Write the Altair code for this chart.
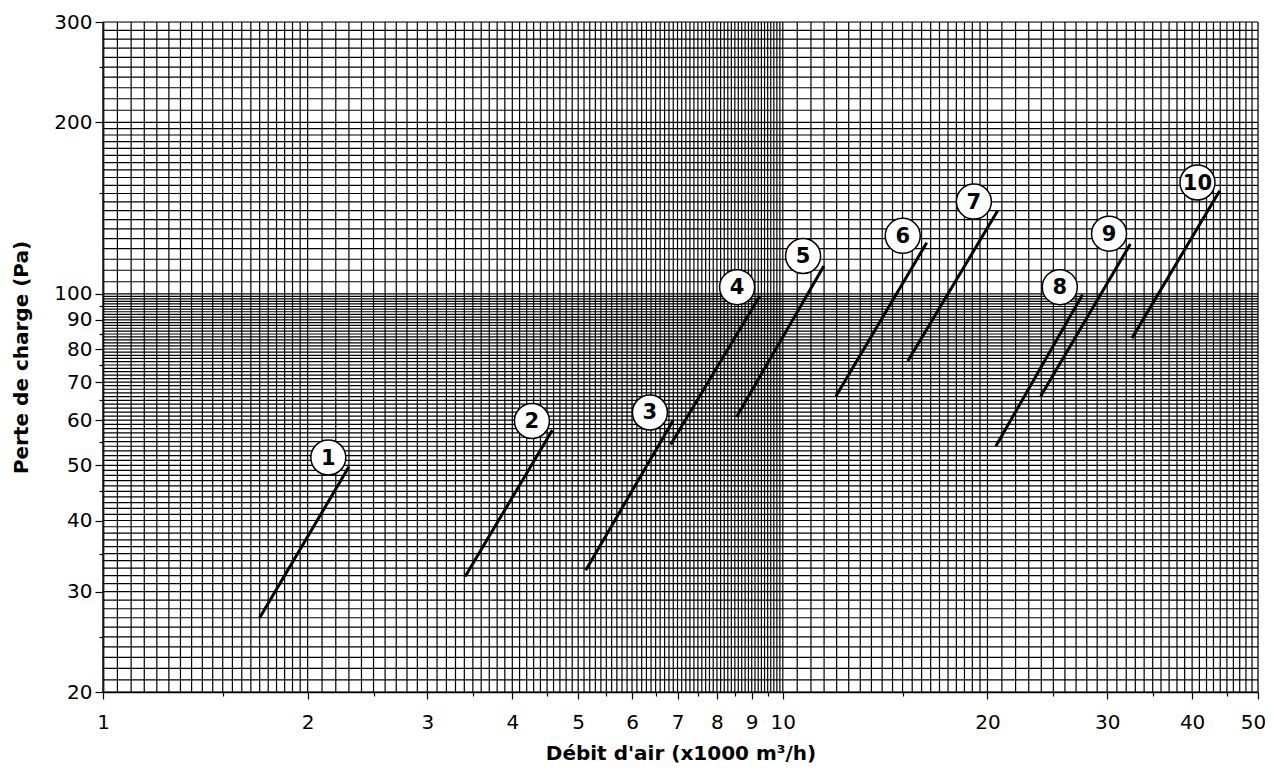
import altair as alt
import pandas as pd

# ---- data ----
SERIES = ["1", "2", "3", "4", "5", "6", "7", "8", "9", "10"]
X_START = [1.70, 3.41, 5.13, 6.84, 8.55, 11.97, 15.27, 20.57, 23.95, 32.63]
Y_START = [27.0, 31.9, 32.7, 54.4, 60.8, 66.1, 76.2, 54.0, 66.1, 83.6]
X_END = [2.30, 4.58, 6.90, 9.25, 11.49, 16.28, 20.71, 27.59, 32.45, 43.92]
Y_END = [49.7, 57.6, 60.0, 99.1, 111.9, 122.9, 140.0, 99.6, 122.3, 151.7]
LABEL_X = [2.145, 4.275, 6.375, 8.566, 10.71, 15.01, 19.10, 25.55, 30.19, 40.73]
LABEL_Y = [51.6, 59.8, 61.9, 102.7, 116.5, 126.4, 145.2, 102.7, 127.5, 156.8]

X_MAJOR = [1, 2, 3, 4, 5, 6, 7, 8, 9, 10, 20, 30, 40, 50]
X_MINOR = [1.5, 2.5, 3.5, 4.5, 5.5, 6.5, 7.5, 8.5, 9.5, 15, 25, 35, 45]
Y_MAJOR = [20, 30, 40, 50, 60, 70, 80, 90, 100, 200, 300]
Y_MINOR = [25, 35, 45, 55, 65, 75, 85, 95, 150, 250]

# graph-paper ruling: (from, to, step)
X_GRID_BANDS = [(1, 2, 0.05), (2, 10, 0.1), (10, 20, 0.5), (20, 50, 1)]
Y_GRID_BANDS = [(20, 100, 1), (100, 200, 5), (200, 300, 10)]


def ruling(bands):
    vals = []
    for a, b, s in bands:
        n = int(round((b - a) / s))
        for i in range(n + 1):
            v = round(a + i * s, 4)
            if v not in vals:
                vals.append(v)
    return vals


lines_df = pd.DataFrame(
    {
        "serie": SERIES * 2,
        "x": X_START + X_END,
        "y": Y_START + Y_END,
    }
)
labels_df = pd.DataFrame({"serie": SERIES, "x": LABEL_X, "y": LABEL_Y})
vgrid_df = pd.DataFrame({"x": ruling(X_GRID_BANDS)})
hgrid_df = pd.DataFrame({"y": ruling(Y_GRID_BANDS)})

FONT = "DejaVu Sans"


def major_test(vals):
    return "indexof([" + ",".join(str(v) for v in vals) + "], datum.value) >= 0"


xscale = alt.Scale(type="log", domain=[1, 50], nice=False)
yscale = alt.Scale(type="log", domain=[20, 300], nice=False)

x_axis = alt.Axis(
    values=X_MAJOR + X_MINOR,
    labelExpr=major_test(X_MAJOR) + " ? format(datum.value, '~g') : ''",
    tickSize={"condition": {"test": major_test(X_MAJOR), "value": 7}, "value": 4},
    labelOffset={"condition": {"test": "datum.value == 50", "value": -5}, "value": 0},
    grid=False,
    domainColor="black",
    domainWidth=1.5,
    tickColor="black",
    tickWidth=1.2,
    labelFont=FONT,
    labelFontSize=20,
    labelColor="black",
    labelPadding=13,
    labelFlush=False,
    labelOverlap=False,
    title="Débit d'air (x1000 m³/h)",
    titleFont=FONT,
    titleFontSize=20,
    titleFontWeight="bold",
    titleColor="black",
    titlePadding=11,
)

y_axis = alt.Axis(
    values=Y_MAJOR + Y_MINOR,
    labelExpr=major_test(Y_MAJOR) + " ? format(datum.value, '~g') : ''",
    tickSize={"condition": {"test": major_test(Y_MAJOR), "value": 8}, "value": 4},
    grid=False,
    domainColor="#444",
    domainWidth=2,
    tickColor="black",
    tickWidth=1.2,
    labelFont=FONT,
    labelFontSize=20,
    labelColor="black",
    labelPadding=3,
    labelFlush=False,
    labelOverlap=False,
    title="Perte de charge (Pa)",
    titleFont=FONT,
    titleFontSize=20,
    titleFontWeight="bold",
    titleColor="black",
    titlePadding=22,
)

vgrid = (
    alt.Chart(vgrid_df)
    .mark_rule(color="black", strokeWidth=1.2)
    .encode(x=alt.X("x:Q", scale=xscale, axis=x_axis))
)
hgrid = (
    alt.Chart(hgrid_df)
    .mark_rule(color="black", strokeWidth=1.2)
    .encode(y=alt.Y("y:Q", scale=yscale, axis=y_axis))
)

lines = (
    alt.Chart(lines_df)
    .mark_line(color="black", strokeWidth=3, strokeCap="butt")
    .encode(
        x=alt.X("x:Q", scale=xscale),
        y=alt.Y("y:Q", scale=yscale),
        detail="serie:N",
    )
)

circles = (
    alt.Chart(labels_df)
    .mark_point(
        shape="circle", filled=True, fill="white", stroke="black",
        strokeWidth=1.5, size=1225, opacity=1,
    )
    .encode(x=alt.X("x:Q", scale=xscale), y=alt.Y("y:Q", scale=yscale))
)

texts = (
    alt.Chart(labels_df)
    .mark_text(font=FONT, fontSize=21, fontWeight="bold", color="black",
               align="center", baseline="middle", dy=1)
    .encode(
        x=alt.X("x:Q", scale=xscale),
        y=alt.Y("y:Q", scale=yscale),
        text="serie:N",
    )
)

chart = (
    alt.layer(vgrid, hgrid, lines, circles, texts)
    .properties(
        width=1155,
        height=670,
        autosize=alt.AutoSizeParams(type="none"),
        padding={"left": 95, "top": 14, "right": 7, "bottom": 75},
    )
    .configure_view(stroke=None)
    .configure(background="white")
)

chart.save("out.html", embed_options={"renderer": "svg", "actions": False})
